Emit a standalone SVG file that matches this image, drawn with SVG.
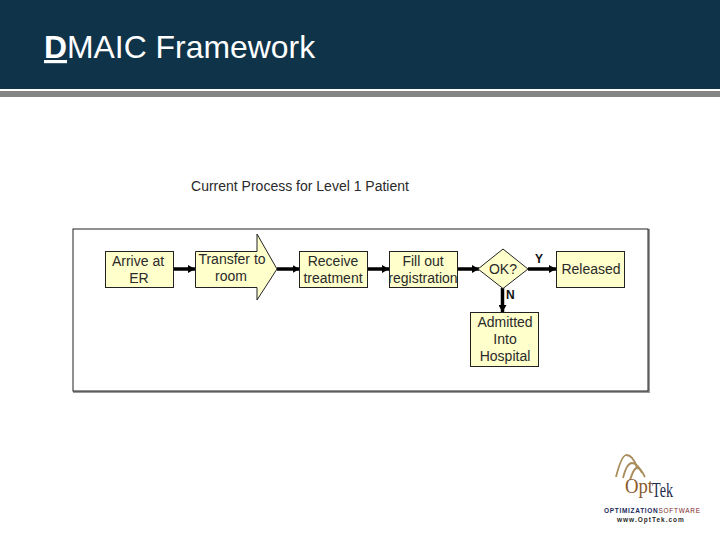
<svg xmlns="http://www.w3.org/2000/svg" width="720" height="540" viewBox="0 0 720 540">
<style>
text{font-family:"Liberation Sans",Arial,sans-serif;fill:#2a2a2a}
.box{fill:#ffffcc;stroke:#222;stroke-width:1}
.lbl{font-size:14px;text-anchor:middle}
.yn{font-size:12px;font-weight:bold;fill:#111}
.con{stroke:#000;stroke-width:3.500;fill:none;marker-end:url(#ah)}
.arc{fill:none;stroke:#a98d5c;stroke-width:1.800}
</style>
<defs><marker id="ah" markerUnits="userSpaceOnUse" markerWidth="8" markerHeight="8" refX="7" refY="4" orient="auto"><path d="M0 0L7 4L0 8Z" fill="#000"/></marker></defs>
<rect width="720" height="540" fill="#fff"/>
<g id="header">
<rect width="720" height="89" fill="#0f3349"/>
<rect y="91" width="720" height="6" fill="#858585"/>
<text x="44" y="58" font-size="31.900" style="fill:#fff"><tspan font-weight="bold" text-decoration="underline">D</tspan>MAIC Framework</text>
</g>
<text x="300" y="191" font-size="14" text-anchor="middle">Current Process for Level 1 Patient</text>
<g id="frame">
<rect x="74" y="230" width="575" height="162" fill="none" stroke="#999" stroke-width="2"/>
<rect x="73" y="229" width="575" height="162" fill="#fff" stroke="#222" stroke-width="1"/>
</g>
<g id="connectors">
<path class="con" d="M174 269H195"/>
<path class="con" d="M277 269H299.500"/>
<path class="con" d="M368 269H389"/>
<path class="con" d="M458 269H479"/>
<path class="con" d="M528 269H556"/>
<path class="con" d="M502.500 288V312"/>
</g>
<g id="arrive"><rect class="box" x="105.500" y="251.500" width="68" height="36"/><text class="lbl" x="138" y="266">Arrive at</text><text class="lbl" x="139" y="283">ER</text></g>
<g id="transfer"><path class="box" d="M195.500 251.500H257V234L277 269L257 300V287.500H195.500Z"/><text class="lbl" x="232" y="264">Transfer to</text><text class="lbl" x="231" y="281">room</text></g>
<g id="receive"><rect class="box" x="299.500" y="251.500" width="68" height="36"/><text class="lbl" x="333" y="266">Receive</text><text class="lbl" x="333" y="283">treatment</text></g>
<g id="fillout"><rect class="box" x="389.500" y="251.500" width="68" height="36"/><text class="lbl" x="423" y="266">Fill out</text><text class="lbl" x="423" y="283">registration</text></g>
<g id="ok"><path class="box" d="M503 249L528 269L503 288.500L478 269Z"/><text class="lbl" x="503" y="274">OK?</text></g>
<g id="released"><rect class="box" x="556.500" y="251.500" width="68" height="36"/><text class="lbl" x="591" y="274">Released</text></g>
<g id="admitted"><rect class="box" x="470.500" y="312.500" width="68" height="54"/><text class="lbl" x="505" y="327">Admitted</text><text class="lbl" x="505" y="344">Into</text><text class="lbl" x="505" y="361">Hospital</text></g>
<text class="yn" x="535" y="263">Y</text>
<text class="yn" x="506" y="299">N</text>
<g id="logo">
<path class="arc" d="M616 477C619 465 622 456 626 455C631 455 635 461 637 468"/>
<path class="arc" d="M623 478C625 470 628 463 632 463C636 463 640 468 642 473"/>
<path class="arc" d="M630 480C632 474 634 468 637 468C640 468 643 473 645 477"/>
<text x="625" y="493" font-size="20" textLength="28" lengthAdjust="spacingAndGlyphs" style="font-family:'Liberation Serif',serif;fill:#8a5a2b">Opt</text>
<text x="652" y="497" font-size="20" textLength="21" lengthAdjust="spacingAndGlyphs" style="font-family:'Liberation Serif',serif;fill:#1d2b4d">Tek</text>
<text x="604" y="513" font-size="6.500" font-weight="bold" letter-spacing="0.700" style="fill:#1b2a5c">OPTIMIZATION<tspan style="fill:#7d2a2a" font-weight="normal">SOFTWARE</tspan></text>
<text x="617" y="522" font-size="6.500" font-weight="bold" letter-spacing="1">www.OptTek.com</text>
</g>
</svg>
